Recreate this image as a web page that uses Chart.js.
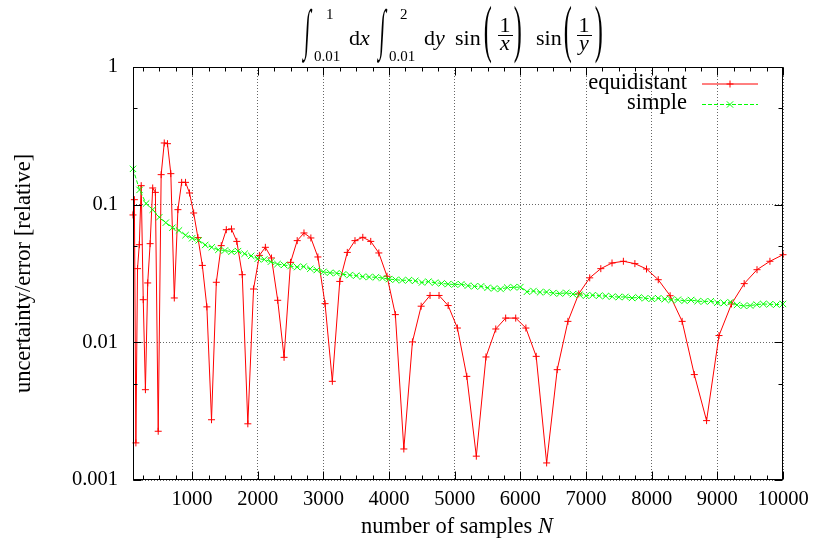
<!DOCTYPE html>
<html>
<head>
<meta charset="utf-8">
<title>sin(1/x) sin(1/y) - uncertainty vs samples</title>
<script src="https://cdn.jsdelivr.net/npm/chart.js@4.4.1/dist/chart.umd.min.js"></script>
<style>
  body { margin: 0; background: #fff; }
  #wrap { position: relative; width: 814px; height: 542px; font-family: 'Liberation Serif', 'Times New Roman', serif; color: #000; }
  #wrap canvas { position: absolute; left: 0; top: 0; }
  .t { position: absolute; line-height: 1; white-space: nowrap; }
  .bar { position: absolute; height: 0; border-top: 1px solid #000; }
</style>
</head>
<body>
<div id="wrap">
  <canvas id="chart" width="814" height="542"></canvas>
  <div id="title"></div>
  <div id="xlabel" class="t" style="left:457px; top:515px; font-size:22.5px; transform:translateX(-50%)">number of samples <i>N</i></div>
</div>
<script>
//Data
//equidistant grid: N = n*n points, n = 10..100
var equiN = [100, 121, 144, 169, 196, 225, 256, 289, 324, 361,
  400, 441, 484, 529, 576, 625, 676, 729, 784, 841,
  900, 961, 1024, 1089, 1156, 1225, 1296, 1369, 1444, 1521,
  1600, 1681, 1764, 1849, 1936, 2025, 2116, 2209, 2304, 2401,
  2500, 2601, 2704, 2809, 2916, 3025, 3136, 3249, 3364, 3481,
  3600, 3721, 3844, 3969, 4096, 4225, 4356, 4489, 4624, 4761,
  4900, 5041, 5184, 5329, 5476, 5625, 5776, 5929, 6084, 6241,
  6400, 6561, 6724, 6889, 7056, 7225, 7396, 7569, 7744, 7921,
  8100, 8281, 8464, 8649, 8836, 9025, 9216, 9409, 9604, 9801,
  10000];
var equiErr = [0.0842, 0.1087, 0.00186, 0.0343, 0.0512, 0.1374, 0.0204, 0.00453, 0.0270, 0.0521,
  0.1322, 0.1228, 0.00226, 0.1652, 0.2806, 0.2773, 0.1680, 0.0210, 0.0920, 0.1452,
  0.1452, 0.1216, 0.0870, 0.0576, 0.0362, 0.0181, 0.00274, 0.0273, 0.0504, 0.0658,
  0.0666, 0.0541, 0.0310, 0.00256, 0.0244, 0.0428, 0.0490, 0.0410, 0.0202, 0.00778,
  0.0381, 0.0548, 0.0623, 0.0573, 0.0417, 0.0191, 0.00521, 0.0277, 0.0450, 0.0548,
  0.0579, 0.0541, 0.0446, 0.0302, 0.0159, 0.00168, 0.01007, 0.0183, 0.0219, 0.0219,
  0.0185, 0.0127, 0.00566, 0.00149, 0.00783, 0.0125, 0.0150, 0.0150, 0.0127, 0.00791,
  0.00133, 0.00633, 0.0142, 0.0225, 0.0294, 0.0343, 0.0377, 0.0388, 0.0373, 0.0341,
  0.0285, 0.0218, 0.0142, 0.00583, 0.00270, 0.0112, 0.0190, 0.0267, 0.0337, 0.0388,
  0.0433];

//simple (random) sampling: every 100 samples
var simpleN = [100, 200, 300, 400, 500, 600, 700, 800, 900, 1000,
  1100, 1200, 1300, 1400, 1500, 1600, 1700, 1800, 1900, 2000,
  2100, 2200, 2300, 2400, 2500, 2600, 2700, 2800, 2900, 3000,
  3100, 3200, 3300, 3400, 3500, 3600, 3700, 3800, 3900, 4000,
  4100, 4200, 4300, 4400, 4500, 4600, 4700, 4800, 4900, 5000,
  5100, 5200, 5300, 5400, 5500, 5600, 5700, 5800, 5900, 6000,
  6100, 6200, 6300, 6400, 6500, 6600, 6700, 6800, 6900, 7000,
  7100, 7200, 7300, 7400, 7500, 7600, 7700, 7800, 7900, 8000,
  8100, 8200, 8300, 8400, 8500, 8600, 8700, 8800, 8900, 9000,
  9100, 9200, 9300, 9400, 9500, 9600, 9700, 9800, 9900, 10000];
var simpleErr = [0.182, 0.128, 0.102, 0.092, 0.081, 0.074, 0.068, 0.065, 0.060, 0.057,
  0.055, 0.051, 0.049, 0.047, 0.0465, 0.0455, 0.046, 0.044, 0.0425, 0.0405,
  0.040, 0.0385, 0.037, 0.0365, 0.0358, 0.0352, 0.0355, 0.0342, 0.0335, 0.0325,
  0.0320, 0.0318, 0.0312, 0.0308, 0.0305, 0.0300, 0.0298, 0.0297, 0.0293, 0.0288,
  0.0285, 0.0282, 0.0283, 0.0280, 0.0272, 0.0276, 0.0271, 0.0268, 0.0265, 0.0263,
  0.0264, 0.0258, 0.0255, 0.0255, 0.0249, 0.0246, 0.0244, 0.0250, 0.0251, 0.0252,
  0.0233, 0.0236, 0.0231, 0.0232, 0.0228, 0.0226, 0.0229, 0.0224, 0.0222, 0.0218,
  0.0220, 0.0218, 0.0217, 0.0215, 0.0213, 0.0214, 0.0210, 0.0212, 0.0209, 0.0207,
  0.0209, 0.0206, 0.0203, 0.0204, 0.0200, 0.0203, 0.0199, 0.0198, 0.0199, 0.0194,
  0.0193, 0.0196, 0.0187, 0.0184, 0.0185, 0.0188, 0.0190, 0.0189, 0.0188, 0.0190];

var xTicks = [1000, 2000, 3000, 4000, 5000, 6000, 7000, 8000, 9000, 10000];
var yTicks = [0.001, 0.01, 0.1, 1];
var yTickLabels = ['0.001', '0.01', '0.1', '1'];
var xMin = 100;
var xMax = 10000;

var serif = "'Liberation Serif', 'Times New Roman', serif";

function makePoints(xs, ys) {
  var pts = [];
  for (var i = 0; i < xs.length; i++) {
    pts.push({x: xs[i], y: ys[i]});
  }
  return pts;
}

//Title (the integral), built from positioned text pieces
var titleEl = document.getElementById('title');
function put(html, x, base, size, css) {
  var s = document.createElement('span');
  s.className = 't';
  s.innerHTML = html;
  s.style.left = x + 'px';
  s.style.top = (base - 0.8375 * size) + 'px';
  s.style.fontSize = size + 'px';
  if (css) s.style.cssText += css;
  titleEl.appendChild(s);
  return s;
}
function bar(x1, x2, y) {
  var b = document.createElement('div');
  b.className = 'bar';
  b.style.left = x1 + 'px';
  b.style.width = (x2 - x1) + 'px';
  b.style.top = y + 'px';
  titleEl.appendChild(b);
}
var bigInt = 'transform:scale(0.85,2.3) skewX(-8deg);transform-origin:50% 58%';
var bigParen = 'transform:scale(1.1,2.9);transform-origin:50% 58%';
var center = 'transform:translateX(-50%)';

put('&#8747;', 304, 40, 24, bigInt);
put('1', 326, 20, 15);
put('0.01', 314, 62, 15);
put('d<i>x</i>', 349, 45, 22);
put('&#8747;', 379, 40, 24, bigInt);
put('2', 400, 20, 15);
put('0.01', 389, 62, 15);
put('d<i>y</i>', 424, 45, 22);
put('sin', 455, 45, 22);
put('(', 484, 40.7, 22, bigParen);
put('1', 505, 32, 22, center);
bar(498, 513, 35);
put('<i>x</i>', 505, 50, 22, center);
put(')', 514, 40.7, 22, bigParen);
put('sin', 536, 45, 22);
put('(', 564, 40.7, 22, bigParen);
put('1', 584, 32, 22, center);
bar(577, 592, 35);
put('<i>y</i>', 584, 50, 22, center);
put(')', 595, 40.7, 22, bigParen);

//Frame, inward tick marks and the gnuplot-like key
var frameAndKey = {
  id: 'frameAndKey',
  afterDraw: function (chart) {
    var ctx = chart.ctx;
    var a = chart.chartArea;
    var xs = chart.scales.x;
    var ys = chart.scales.y;
    var L = Math.round(a.left) + 0.5, R = Math.round(a.right) - 0.5;
    var T = Math.round(a.top) + 0.5, B = Math.round(a.bottom) - 0.5;
    ctx.save();
    ctx.strokeStyle = '#000';
    ctx.lineWidth = 1;
    ctx.setLineDash([]);
    ctx.beginPath();
    for (var v = 250; v <= xMax; v += 250) {
      if (v < xMin) continue;
      var px = Math.round(xs.getPixelForValue(v)) + 0.5;
      var len = v % 1000 === 0 ? 8 : 4;
      ctx.moveTo(px, B); ctx.lineTo(px, B - len);
      ctx.moveTo(px, T); ctx.lineTo(px, T + len);
    }
    for (var k = 0; k < yTicks.length; k++) {
      var py = Math.round(ys.getPixelForValue(yTicks[k])) + 0.5;
      ctx.moveTo(L, py); ctx.lineTo(L + 8, py);
      ctx.moveTo(R, py); ctx.lineTo(R - 8, py);
      if (k < yTicks.length - 1) {
        var pm = Math.round(ys.getPixelForValue(yTicks[k] * 5)) + 0.5;
        ctx.moveTo(L, pm); ctx.lineTo(L + 4, pm);
        ctx.moveTo(R, pm); ctx.lineTo(R - 4, pm);
      }
    }
    ctx.stroke();
    ctx.strokeRect(L, T, R - L, B - T);

    //key
    var keys = [
      {ds: chart.data.datasets[0], y: 84},
      {ds: chart.data.datasets[1], y: 104.5}
    ];
    ctx.font = '22.5px ' + serif;
    ctx.fillStyle = '#000';
    ctx.textAlign = 'right';
    ctx.textBaseline = 'alphabetic';
    for (var i = 0; i < keys.length; i++) {
      var ds = keys[i].ds;
      var ky = keys[i].y;
      ctx.fillText(ds.label, 687, ky + 4.5);
      ctx.strokeStyle = ds.borderColor;
      ctx.lineWidth = 1;
      ctx.setLineDash(ds.borderDash || []);
      ctx.beginPath();
      ctx.moveTo(702, ky);
      ctx.lineTo(758, ky);
      ctx.stroke();
      ctx.setLineDash([]);
      Chart.helpers.drawPoint(ctx, {pointStyle: ds.pointStyle, radius: ds.pointRadius, borderWidth: 1, rotation: 0}, 730, ky);
    }
    ctx.restore();
  }
};

var gridColor = 'rgba(0, 0, 0, 0.6)';

var myChart = new Chart(document.getElementById('chart'), {
  type: 'line',
  data: {
    datasets: [
      {
        label: 'equidistant',
        data: makePoints(equiN, equiErr),
        borderColor: '#ff0000',
        backgroundColor: '#ff0000',
        borderWidth: 1,
        pointStyle: 'cross',
        pointRadius: 3.5,
        pointHoverRadius: 3.5,
        pointBorderWidth: 1,
        order: 1,
        clip: false
      },
      {
        label: 'simple',
        data: makePoints(simpleN, simpleErr),
        borderColor: '#00ff00',
        backgroundColor: '#00ff00',
        borderWidth: 1,
        borderDash: [4, 2],
        pointStyle: 'crossRot',
        pointRadius: 4.5,
        pointHoverRadius: 4.5,
        pointBorderWidth: 1,
        order: 0,
        clip: false
      }
    ]
  },
  options: {
    responsive: false,
    animation: false,
    devicePixelRatio: 1,
    layout: { padding: { top: 67, right: 31, bottom: 0, left: 0 } },
    plugins: {
      legend: { display: false },
      title: { display: false },
      tooltip: { enabled: false }
    },
    scales: {
      x: {
        type: 'linear',
        min: xMin,
        max: xMax,
        afterBuildTicks: function (scale) {
          scale.ticks = xTicks.map(function (v) { return {value: v}; });
        },
        ticks: {
          autoSkip: false,
          maxRotation: 0,
          color: '#000',
          padding: 7,
          font: { family: serif, size: 20.5 },
          callback: function (value) { return String(value); }
        },
        grid: { color: gridColor, lineWidth: 1, drawTicks: false },
        border: { display: false, dash: [1, 2] },
        afterFit: function (scale) {
          scale.height = 62;
          scale.paddingLeft = 0;
          scale.paddingRight = 0;
        }
      },
      y: {
        type: 'logarithmic',
        min: 0.001,
        max: 1,
        afterBuildTicks: function (scale) {
          scale.ticks = yTicks.map(function (v) { return {value: v}; });
        },
        ticks: {
          color: '#000',
          padding: 15,
          font: { family: serif, size: 20.5 },
          callback: function (value) {
            var i = yTicks.indexOf(value);
            return i < 0 ? '' : yTickLabels[i];
          }
        },
        grid: { color: gridColor, lineWidth: 1, drawTicks: false },
        border: { display: false, dash: [1, 2] },
        title: {
          display: true,
          text: 'uncertainty/error [relative]',
          color: '#000',
          font: { family: serif, size: 22.5 },
          padding: { top: 11, bottom: 0 }
        },
        afterFit: function (scale) {
          scale.width = 133;
          scale.paddingTop = 0;
          scale.paddingBottom = 0;
        }
      }
    }
  },
  plugins: [frameAndKey]
});
</script>
</body>
</html>
